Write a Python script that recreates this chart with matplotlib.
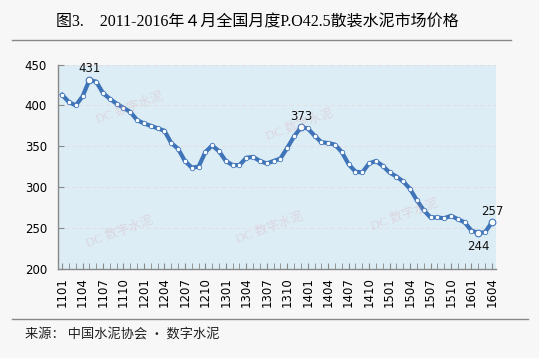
import matplotlib.pyplot as plt
import numpy as np
from matplotlib.lines import Line2D

# monthly price, 2011-01 .. 2016-04 (yuan/t)
months = [f"{y:02d}{m:02d}" for y in range(11, 17) for m in range(1, 13)][:64]
prices = [413, 404, 400, 411, 431, 429, 415, 408, 402, 397,
          392, 382, 378, 375, 372, 369, 354, 347, 332, 324,
          325, 343, 351, 344, 332, 327, 327, 336, 337, 332,
          329, 332, 335, 348, 362, 373, 372, 363, 355, 354,
          352, 343, 328, 319, 318, 329, 332, 326, 318, 313,
          307, 298, 284, 272, 263, 263, 262, 265, 261, 257,
          247, 244, 245, 257]
labelled = {4: 'above', 35: 'above', 61: 'below', 63: 'above'}
yticks = [200, 250, 300, 350, 400, 450]

title = "图3.　2011-2016年４月全国月度P.O42.5散装水泥市场价格"
source = "来源： 中国水泥协会 · 数字水泥"

BG = '#f7f7f7'
BLUE = '#3f74b9'

fig = plt.figure(figsize=(5.39, 3.58), dpi=100, facecolor=BG)
ax = fig.add_axes([58/539, 1-269/358, (496-58)/539, (269-64.5)/358])
ax.set_facecolor('#dcedf5')

x = np.arange(len(prices))
ax.plot(x, prices, color=BLUE, lw=3, zorder=3)
ax.plot(x, prices, ls='none', marker='o', ms=3.2, mfc='white', mec=BLUE, mew=0.6, zorder=4)
for i, pos in labelled.items():
    ax.plot(x[i], prices[i], marker='o', ms=4.8, mfc='white', mec=BLUE, mew=0.8, zorder=5)
    dy = 8 if pos == 'above' else -10
    ax.annotate(str(prices[i]), (x[i], prices[i]), xytext=(0, dy), textcoords='offset points',
                ha='center', va='center', fontsize=8.5, color='#111111')

ax.set_xlim(-0.6, 63.6)
ax.set_ylim(200, 450)
ax.set_yticks(yticks)
ax.set_yticklabels([str(v) for v in yticks], fontsize=8.5)
ax.set_xticks(x[::3])
ax.set_xticklabels(months[::3], rotation=90, fontsize=8.5)
ax.set_xticks(x, minor=True)
ax.tick_params(axis='x', which='both', direction='in', length=4, color='#888888', pad=6)
ax.tick_params(axis='y', direction='in', length=4, color='#888888', pad=8)
for y in yticks[1:]:
    ax.axhline(y, color='#e4dde2', lw=0.7, ls=(0, (4, 3)), zorder=1)
for s in ['top', 'right']:
    ax.spines[s].set_visible(False)
for s in ['left', 'bottom']:
    ax.spines[s].set_color('#888888')
    ax.spines[s].set_linewidth(1)

# faint watermarks
for wx, wy in [(130, 108), (300, 125), (120, 232), (270, 228), (405, 215)]:
    fig.text(wx/539, 1-wy/358, "DC 数字水泥", fontsize=9, color='#d9a0b0', alpha=0.3,
             rotation=20, ha='center', va='center', family=['Liberation Serif', 'Noto Sans CJK SC'])

fig.text(257/539, 1-22/358, title, ha='center', va='center', fontsize=11.5,
         family=['Liberation Serif', 'Noto Sans CJK SC'])
fig.add_artist(Line2D([12/539, 511/539], [1-40/358, 1-40/358], color='#888888', lw=1))
fig.add_artist(Line2D([12/539, 528/539], [1-319/358, 1-319/358], color='#888888', lw=1))
fig.text(25/539, 1-335/358, source, ha='left', va='center', fontsize=9.5, color='#222222',
         family=['Noto Sans CJK SC', 'DejaVu Sans'])

fig.savefig('out.png', dpi=100, facecolor=BG)
